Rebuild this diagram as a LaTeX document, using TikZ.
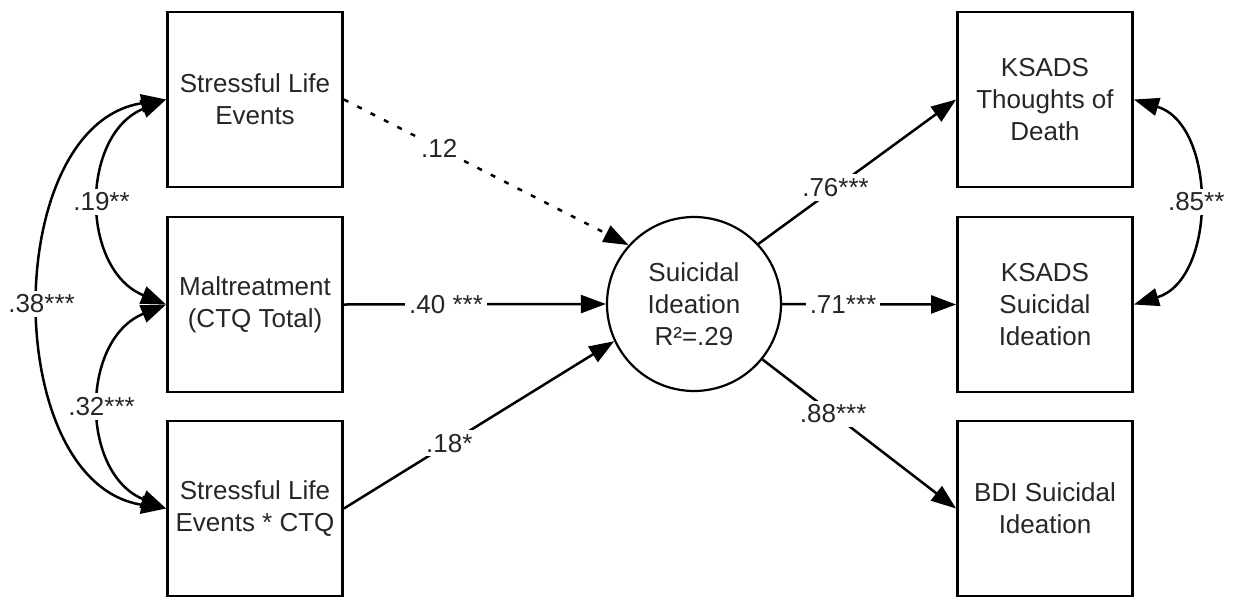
\documentclass[tikz,border=0pt]{standalone}
\usepackage{fontspec}
\setmainfont{Liberation Sans}
\usetikzlibrary{arrows.meta}
\begin{document}
\begin{tikzpicture}[x=1pt,y=-1pt,
  font=\fontsize{26}{32}\selectfont,
  box/.style={draw, line width=2.8pt, minimum width=175pt, minimum height=175pt, align=center, inner sep=0pt, text=black!85},
  lat/.style={draw, circle, line width=2.2pt, minimum size=174pt, align=center, inner sep=0pt, text=black!85},
  arr/.style={line width=2.5pt, -{Triangle[length=25pt,width=18pt]}},
  dbl/.style={line width=2.5pt, {Triangle[length=25pt,width=18pt]}-{Triangle[length=25pt,width=18pt]}},
  lbl/.style={fill=white, inner sep=4pt, text=black!85},
  dsh/.style={dash pattern=on 5pt off 10pt}]
\useasboundingbox (0,0) rectangle (1238,597);
\node[box] (sle) at (255,99.5) {Stressful Life\\Events};
\node[box] (mal) at (255,304.5) {Maltreatment\\(CTQ Total)};
\node[box] (int) at (255,508.5) {Stressful Life\\Events * CTQ};
\node[lat] (si) at (694,304) {Suicidal\\Ideation\\R²=.29};
\node[box] (ktd) at (1045,99.5) {KSADS\\Thoughts of\\Death};
\node[box] (ksi) at (1045,304.5) {KSADS\\Suicidal\\Ideation};
\node[box] (bdi) at (1045,508.5) {BDI Suicidal\\Ideation};
\draw[arr,dsh] (sle.east) -- node[lbl,pos=0.335]{.12} (si.138);
\draw[arr] (mal.east) -- node[lbl,pos=0.39]{.40 ***} (si.west);
\draw[arr] (int.east) -- node[lbl,pos=0.39]{.18*} (si.205);
\draw[arr] (si.43) -- node[lbl,pos=0.39]{.76***} (ktd.west);
\draw[arr] (si.east) -- node[lbl,pos=0.35]{.71***} (ksi.west);
\draw[arr] (si.-39) -- node[lbl,pos=0.365]{.88***} (bdi.west);
\draw[dbl] (sle.west) .. controls (80,134.5) and (80,269.5) .. node[lbl]{.19**} (mal.west);
\draw[dbl] (mal.west) .. controls (80,339.5) and (80,473.5) .. node[lbl]{.32***} (int.west);
\draw[dbl] (sle.west) .. controls (0,125) and (0,483) .. node[lbl]{.38***} (int.west);
\draw[dbl] (ktd.east) .. controls (1217,125) and (1217,279) .. node[lbl]{.85**} (ksi.east);
\end{tikzpicture}
\end{document}
